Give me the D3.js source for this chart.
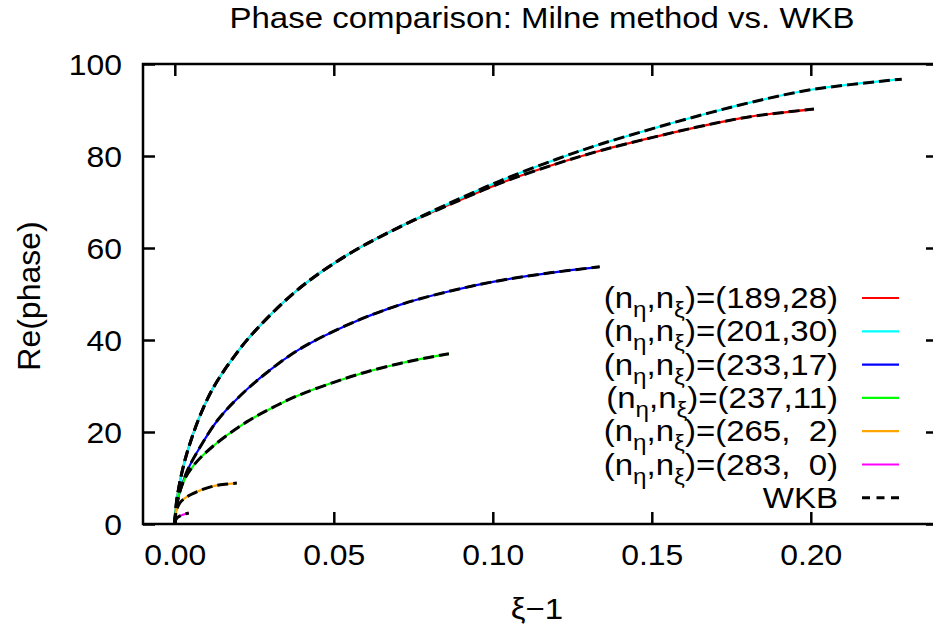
<!DOCTYPE html>
<html>
<head>
<meta charset="UTF-8">
<script src="https://cdnjs.cloudflare.com/ajax/libs/d3/7.8.5/d3.min.js"></script>
<style>
  body { margin: 0; background: #fff; }
  text { font-family: "Liberation Sans", Arial, sans-serif; fill: #000; }
</style>
</head>
<body>
<svg id="chart" width="933" height="634"></svg>
<script>
// values: x = xi-1, y = Re(phase)
const xTicks = [0, 0.05, 0.10, 0.15, 0.20];
const yTicks = [0, 20, 40, 60, 80, 100];

// (189,28) and (201,30) lie on top of each other up to ~0.08
const x189 = [0, 0.0005, 0.0015, 0.003, 0.005, 0.0079, 0.012, 0.018, 0.025, 0.0393, 0.055, 0.0708, 0.085, 0.102, 0.12, 0.134, 0.15, 0.165, 0.1805, 0.201];
const y189 = [0, 4.6, 8.8, 13.4, 18.0, 23.5, 29.5, 35.8, 41.8, 51.3, 58.8, 64.6, 69.0, 74.0, 78.3, 81.2, 84.0, 86.4, 88.5, 90.2];
const x201 = [0, 0.0005, 0.0015, 0.003, 0.005, 0.0079, 0.012, 0.018, 0.025, 0.0393, 0.055, 0.0708, 0.085, 0.102, 0.12, 0.134, 0.15, 0.165, 0.1808, 0.20, 0.2286];
const y201 = [0, 4.6, 8.8, 13.4, 18.0, 23.5, 29.5, 35.8, 41.8, 51.3, 58.8, 64.6, 69.3, 74.5, 79.3, 82.6, 85.9, 88.8, 91.6, 94.4, 96.7];
const x233 = [0, 0.0005, 0.0015, 0.004, 0.0075, 0.0135, 0.02, 0.028, 0.039, 0.055, 0.071, 0.087, 0.102, 0.118, 0.1336];
const y233 = [0, 3.5, 6.8, 11.7, 16.2, 22.6, 27.5, 32.4, 37.9, 43.5, 47.7, 50.7, 52.9, 54.6, 55.9];
const x237 = [0, 0.0005, 0.0025, 0.006, 0.012, 0.0226, 0.031, 0.039, 0.05, 0.06, 0.0708, 0.079, 0.0862];
const y237 = [0, 3.8, 8.9, 12.8, 16.9, 22.2, 25.4, 28.0, 30.8, 33.0, 34.9, 36.1, 37];
const x265 = [0, 0.0003, 0.0016, 0.004, 0.0069, 0.010, 0.0132, 0.0165, 0.0195];
const y265 = [0, 2.3, 4.6, 6.0, 7.0, 7.8, 8.4, 8.7, 8.9];
const x283 = [0, 0.0003, 0.001, 0.0025, 0.0044];
const y283 = [0, 0.9, 1.5, 2.0, 2.4];

const nEta = ["189", "201", "233", "237", "265", "283"];
const nXi = ["28", "30", "17", "11", "  2", "  0"];
const colors = ["#ff0000", "#00ffff", "#0000ff", "#00ff00", "#ffa500", "#ff00ff"];

const xs = [x189, x201, x233, x237, x265, x283];
const ys = [y189, y201, y233, y237, y265, y283];

const svg = d3.select("#chart");
svg.append("rect").attr("width", 933).attr("height", 634).attr("fill", "#fff");

const pL = 143, pT = 64, pB = 524, pR = 938;
const x = d3.scaleLinear().domain([-0.01, 0.24]).range([pL, pR]);
const y = d3.scaleLinear().domain([0, 100]).range([pB, pT]);

// the reference text is a bit wider than Liberation Sans
const sx = 1.1;

svg.append("defs").append("clipPath").attr("id", "clip")
  .append("rect").attr("x", pL).attr("y", pT).attr("width", pR - pL).attr("height", pB - pT);

const tickLen = 12;

// axes with inward ticks on all four sides
const axBottom = svg.append("g").attr("transform", `translate(0,${pB})`)
  .call(d3.axisBottom(x).tickValues(xTicks).tickSizeInner(-tickLen).tickSizeOuter(0).tickFormat(d3.format(".2f")));
const axTop = svg.append("g").attr("transform", `translate(0,${pT})`)
  .call(d3.axisTop(x).tickValues(xTicks).tickSizeInner(-tickLen).tickSizeOuter(0).tickFormat(""));
const axLeft = svg.append("g").attr("transform", `translate(${pL},0)`)
  .call(d3.axisLeft(y).tickValues(yTicks).tickSizeInner(-tickLen).tickSizeOuter(0).tickFormat(d3.format("d")));
const axRight = svg.append("g").attr("transform", `translate(${pR},0)`)
  .call(d3.axisRight(y).tickValues(yTicks).tickSizeInner(-tickLen).tickSizeOuter(0).tickFormat(""));

[axBottom, axTop, axLeft, axRight].forEach(a => {
  a.select(".domain").remove();
  a.selectAll(".tick line").attr("stroke", "#000").attr("stroke-width", 2.5);
  a.selectAll("text").attr("font-family", '"Liberation Sans", Arial, sans-serif').attr("fill", "#000");
});
axBottom.selectAll("text").attr("font-size", 29).attr("y", 0).attr("dy", 0)
  .attr("transform", `translate(0,${565 - pB}) scale(${sx},1)`);
axLeft.selectAll("text").attr("font-size", 29).attr("x", 0).attr("dy", "0.36em").attr("text-anchor", "end")
  .attr("transform", `translate(-21,0) scale(${sx},1)`);

svg.append("rect").attr("x", pL).attr("y", pT).attr("width", pR - pL).attr("height", pB - pT)
  .attr("fill", "none").attr("stroke", "#000").attr("stroke-width", 2.5);

const line = d3.line().x(d => x(d[0])).y(d => y(d[1])).curve(d3.curveCatmullRom.alpha(0.5));
const plot = svg.append("g").attr("clip-path", "url(#clip)");

xs.forEach((xv, i) => {
  plot.append("path").datum(xv.map((v, j) => [v, ys[i][j]]))
    .attr("d", line).attr("fill", "none").attr("stroke", colors[i]).attr("stroke-width", 2.2);
});
// WKB curves drawn dashed on top
xs.forEach((xv, i) => {
  plot.append("path").datum(xv.map((v, j) => [v, ys[i][j]]))
    .attr("d", line).attr("fill", "none").attr("stroke", "#000").attr("stroke-width", 3)
    .attr("stroke-dasharray", "11,5");
});

// stretched text placed at (px,py)
function label(px, py, size, anchor) {
  return svg.append("g").attr("transform", `translate(${px},${py}) scale(${sx},1)`)
    .append("text").attr("text-anchor", anchor).attr("font-size", size);
}

// legend
const legX = 838, legY0 = 298, legDy = 33.3;
const lab = nEta.map((n, i) => `(${n},${nXi[i]})`).concat(["WKB"]);
lab.forEach((t, i) => {
  const yy = legY0 + i * legDy;
  const tx = label(legX, yy + 10, 30, "end").style("white-space", "pre");
  if (i < nEta.length) {
    tx.append("tspan").text("(n");
    tx.append("tspan").attr("font-size", 22).attr("dy", 9).text("η");
    tx.append("tspan").attr("dy", -9).text(",n");
    tx.append("tspan").attr("font-size", 22).attr("dy", 9).text("ξ");
    tx.append("tspan").attr("dy", -9).text(")=" + t);
    svg.append("line").attr("x1", 862).attr("x2", 899).attr("y1", yy).attr("y2", yy)
      .attr("stroke", colors[i]).attr("stroke-width", 2.2);
  } else {
    tx.text(t);
    svg.append("line").attr("x1", 862).attr("x2", 899).attr("y1", yy).attr("y2", yy)
      .attr("stroke", "#000").attr("stroke-width", 3).attr("stroke-dasharray", "8,6.5");
  }
});

// titles
label(542, 28, 30, "middle").text("Phase comparison: Milne method vs. WKB");
label(537, 619, 30, "middle").text("ξ−1");
svg.append("text").attr("transform", `translate(40,${(pT + pB) / 2 + 2}) rotate(-90)`)
  .attr("text-anchor", "middle").attr("font-size", 32).text("Re(phase)");
</script>
</body>
</html>
